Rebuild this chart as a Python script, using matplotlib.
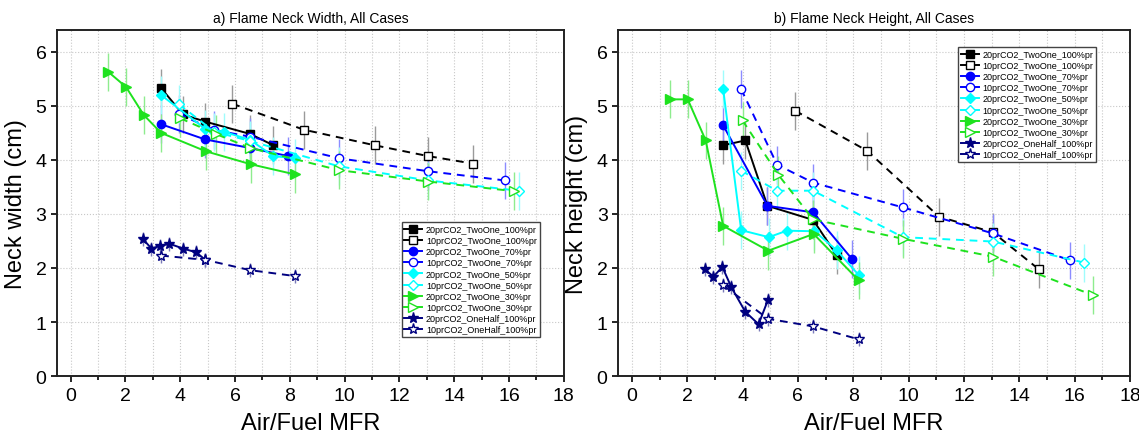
import matplotlib
matplotlib.use("Agg")
import matplotlib.pyplot as plt
from matplotlib.lines import Line2D
from matplotlib.ticker import MultipleLocator

plt.rcParams['font.family'] = ['Liberation Sans', 'DejaVu Sans']

# Air/fuel mass flow ratio for each case
x_20_100 = [3.3, 4.1, 4.9, 6.55, 7.4]
x_10_100 = [5.9, 8.5, 11.1, 13.05, 14.7]
x_20_70 = [3.3, 4.9, 6.55, 7.95]
x_10_70 = [3.95, 5.25, 6.55, 9.8, 13.05, 15.85]
x_20_50w = [3.3, 4.9, 5.6, 6.55, 7.4, 8.2]
x_20_50h = [3.3, 3.95, 4.95, 5.6, 6.6, 7.4, 8.2]
x_10_50 = [3.95, 5.25, 6.55, 9.8, 13.05, 16.35]
x_20_30 = [1.37, 2.02, 2.67, 3.3, 4.93, 6.57, 8.2]
x_10_30w = [4.0, 5.3, 6.55, 9.8, 13.05, 16.2]
x_10_30h = [4.0, 5.3, 6.55, 9.8, 13.05, 16.65]
x_20_oh = [2.63, 2.95, 3.27, 3.6, 4.1, 4.58, 4.92]
x_10_oh = [3.3, 4.92, 6.55, 8.2]

# neck width (cm)
w_20_100 = [5.33, 4.84, 4.71, 4.48, 4.27]
w_10_100 = [5.04, 4.56, 4.27, 4.07, 3.93]
w_20_70 = [4.66, 4.38, 4.22, 4.07]
w_10_70 = [4.85, 4.55, 4.43, 4.03, 3.79, 3.62]
w_20_50 = [5.2, 4.58, 4.52, 4.37, 4.07, 4.03]
w_10_50 = [5.03, 4.52, 4.35, 3.88, 3.62, 3.43]
w_20_30 = [5.63, 5.35, 4.83, 4.5, 4.16, 3.92, 3.73]
w_10_30 = [4.77, 4.48, 4.22, 3.81, 3.6, 3.42]
w_20_oh = [2.54, 2.36, 2.41, 2.45, 2.36, 2.29, 2.15]
w_10_oh = [2.23, 2.15, 1.96, 1.85]

# neck height (cm)
h_20_100 = [4.27, 4.36, 3.15, 2.89, 2.24]
h_10_100 = [4.91, 4.17, 2.95, 2.66, 1.98]
h_20_70 = [4.64, 3.15, 3.03, 2.17]
h_10_70 = [5.31, 3.91, 3.58, 3.12, 2.64, 2.14]
h_20_50 = [5.31, 2.70, 2.57, 2.69, 2.68, 2.33, 1.87]
h_10_50 = [3.80, 3.43, 3.43, 2.57, 2.49, 2.10]
h_20_30 = [5.12, 5.12, 4.36, 2.78, 2.32, 2.63, 1.77]
h_10_30 = [4.73, 3.72, 2.9, 2.54, 2.21, 1.5]
h_20_oh = [1.98, 1.84, 2.02, 1.64, 1.19, 0.96, 1.41]
h_10_oh = [1.68, 1.06, 0.92, 0.68]

err_twoone = 0.35
err_onehalf = 0.13

labels = ['20prCO2_TwoOne_100%pr', '10prCO2_TwoOne_100%pr',
          '20prCO2_TwoOne_70%pr', '10prCO2_TwoOne_70%pr',
          '20prCO2_TwoOne_50%pr', '10prCO2_TwoOne_50%pr',
          '20prCO2_TwoOne_30%pr', '10prCO2_TwoOne_30%pr',
          '20prCO2_OneHalf_100%pr', '10prCO2_OneHalf_100%pr']

# (colour, errorbar colour, marker, marker size, filled)
styles = [('black', '#9a9a9a', 's', 5.5, True),
          ('black', '#9a9a9a', 's', 5.5, False),
          ('#0000ff', '#8c8cff', 'o', 6, True),
          ('#0000ff', '#8c8cff', 'o', 6, False),
          ('#00ffff', '#9ffcfc', 'D', 5, True),
          ('#00ffff', '#9ffcfc', 'D', 5, False),
          ('#1ee21e', '#8eec8e', '>', 7, True),
          ('#1ee21e', '#8eec8e', '>', 7, False),
          ('#000080', '#7a7ab8', '*', 8, True),
          ('#000080', '#7a7ab8', '*', 8, False)]

width_sets = [(x_20_100, w_20_100), (x_10_100, w_10_100), (x_20_70, w_20_70),
              (x_10_70, w_10_70), (x_20_50w, w_20_50), (x_10_50, w_10_50),
              (x_20_30, w_20_30), (x_10_30w, w_10_30), (x_20_oh, w_20_oh),
              (x_10_oh, w_10_oh)]
height_sets = [(x_20_100, h_20_100), (x_10_100, h_10_100), (x_20_70, h_20_70),
               (x_10_70, h_10_70), (x_20_50h, h_20_50), (x_10_50, h_10_50),
               (x_20_30, h_20_30), (x_10_30h, h_10_30), (x_20_oh, h_20_oh),
               (x_10_oh, h_10_oh)]

fig = plt.figure(figsize=(11.39, 4.39), dpi=100)
ax1 = fig.add_axes([0.050, 0.141, 0.445, 0.788])
ax2 = fig.add_axes([0.5426, 0.141, 0.4494, 0.788])


def draw(ax, sets, title, ylabel, leg_anchor):
    for i, (xs, ys) in enumerate(sets):
        col, ecol, mk, ms, filled = styles[i]
        err = err_onehalf if i >= 8 else err_twoone
        ax.errorbar(xs, ys, yerr=err, fmt='none', ecolor=ecol, elinewidth=1,
                    capsize=0, zorder=2)
        ls = '-' if i % 2 == 0 else '--'
        line, = ax.plot(xs, ys, ls, color=col, lw=1.4, marker=mk, ms=ms,
                        mfc=col if filled else 'white', mec=col, mew=1,
                        zorder=3)
        if ls == '--':
            line.set_dashes((4, 3))

    ax.set_xlim(-0.5, 18)
    ax.set_ylim(0, 6.4)
    ax.xaxis.set_major_locator(MultipleLocator(2))
    ax.xaxis.set_minor_locator(MultipleLocator(1))
    ax.yaxis.set_major_locator(MultipleLocator(1))
    ax.tick_params(which='both', direction='out', labelsize=14, width=1.2)
    ax.tick_params(which='major', length=4)
    ax.tick_params(which='minor', length=3)
    ax.grid(True, which='both', axis='x', color='#c8c8c8', ls=':', lw=0.8)
    ax.grid(True, which='major', axis='y', color='#c8c8c8', ls=':', lw=0.8)
    ax.set_axisbelow(True)
    for sp in ax.spines.values():
        sp.set_linewidth(1.4)
        sp.set_color('#222222')
    ax.set_title(title, fontsize=10, pad=6)
    ax.set_xlabel('Air/Fuel MFR', fontsize=17, labelpad=6)
    ax.set_ylabel(ylabel, fontsize=17, labelpad=6)

    handles = []
    for col, ecol, mk, ms, filled in styles:
        handles.append(Line2D([], [], color=col, lw=1.4, marker=mk, ms=ms,
                              mfc=col if filled else 'white', mec=col, mew=1))
    leg = ax.legend(handles, labels, loc='upper left', bbox_to_anchor=leg_anchor,
                    borderaxespad=0, fontsize=6.5, handlelength=2.0,
                    handletextpad=0.4, labelspacing=0.24, borderpad=0.3,
                    fancybox=False, framealpha=1)
    leg.get_frame().set_edgecolor('#444444')
    leg.get_frame().set_linewidth(1.0)


draw(ax1, width_sets, 'a) Flame Neck Width, All Cases', 'Neck width (cm)',
     (0.680, 0.445))
draw(ax2, height_sets, 'b) Flame Neck Height, All Cases', 'Neck height (cm)',
     (0.664, 0.951))

fig.savefig('out.png', dpi=100)
